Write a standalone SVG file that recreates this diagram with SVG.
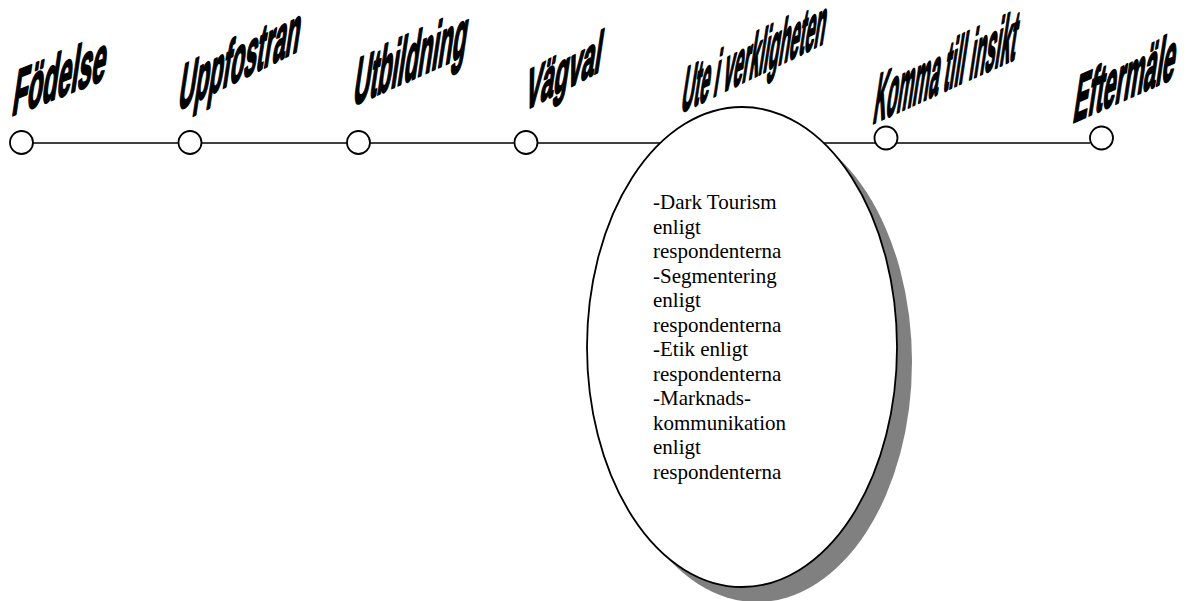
<svg xmlns="http://www.w3.org/2000/svg" width="1190" height="601" viewBox="0 0 1190 601">
  <style>
    .axis { stroke: #000; stroke-width: 1.6; fill: none; }
    .stop { fill: #fff; stroke: #000; stroke-width: 1.8; }
    .wa { font-family: "Liberation Sans", Arial, sans-serif; font-weight: bold; font-size: 60px; fill: #000; stroke: #000; stroke-width: 2; stroke-linejoin: round; vector-effect: non-scaling-stroke; }
    .note { font-family: "Liberation Serif", "Times New Roman", serif; font-size: 21px; fill: #000; }
  </style>

  <!-- timeline connector -->
  <g id="connectors">
    <line class="axis" x1="33" y1="143" x2="1090" y2="143"/>
  </g>

  <!-- life stages -->
  <g id="fodelse">
    <circle class="stop" cx="21.5" cy="142.5" r="11.5"/>
    <text class="wa" transform="matrix(0.41,-0.16,-0.16,1.1,11,116)">Födelse</text>
  </g>
  <g id="uppfostran">
    <circle class="stop" cx="190" cy="142.5" r="11.5"/>
    <text class="wa" transform="matrix(0.378,-0.188,-0.17,1.12,177,111)">Uppfostran</text>
  </g>
  <g id="utbildning">
    <circle class="stop" cx="358.5" cy="142.5" r="11.5"/>
    <text class="wa" transform="matrix(0.38,-0.169,-0.17,1.15,352,106)">Utbildning</text>
  </g>
  <g id="vagval">
    <circle class="stop" cx="526" cy="142.5" r="11.5"/>
    <text class="wa" transform="matrix(0.39,-0.205,-0.15,1.0,524,111)">Vägval</text>
  </g>

  <g id="ute-i-verkligheten">
    <ellipse cx="757" cy="362" rx="155" ry="240" fill="#808080"/>
    <ellipse cx="742" cy="347" rx="155" ry="240" fill="#fff" stroke="#000" stroke-width="1.8"/>
    <text class="wa" transform="matrix(0.287,-0.139,-0.17,1.1,680,113)">Ute i verkligheten</text>
    <text class="note">
      <tspan x="653" y="209">-Dark Tourism</tspan>
      <tspan x="653" y="233.5">enligt</tspan>
      <tspan x="653" y="258">respondenterna</tspan>
      <tspan x="653" y="282.5">-Segmentering</tspan>
      <tspan x="653" y="307">enligt</tspan>
      <tspan x="653" y="331.5">respondenterna</tspan>
      <tspan x="653" y="356">-Etik enligt</tspan>
      <tspan x="653" y="380.5">respondenterna</tspan>
      <tspan x="653" y="405">-Marknads-</tspan>
      <tspan x="653" y="429.5">kommunikation</tspan>
      <tspan x="653" y="454">enligt</tspan>
      <tspan x="653" y="478.5">respondenterna</tspan>
    </text>
  </g>

  <g id="komma-till-insikt">
    <circle class="stop" cx="886" cy="138" r="11.5"/>
    <text class="wa" transform="matrix(0.297,-0.135,-0.18,1.2,872,124)">Komma till insikt</text>
  </g>
  <g id="eftermale">
    <circle class="stop" cx="1101.5" cy="138" r="11.5"/>
    <text class="wa" transform="matrix(0.37,-0.163,-0.17,1.14,1072,123)">Eftermäle</text>
  </g>
</svg>
